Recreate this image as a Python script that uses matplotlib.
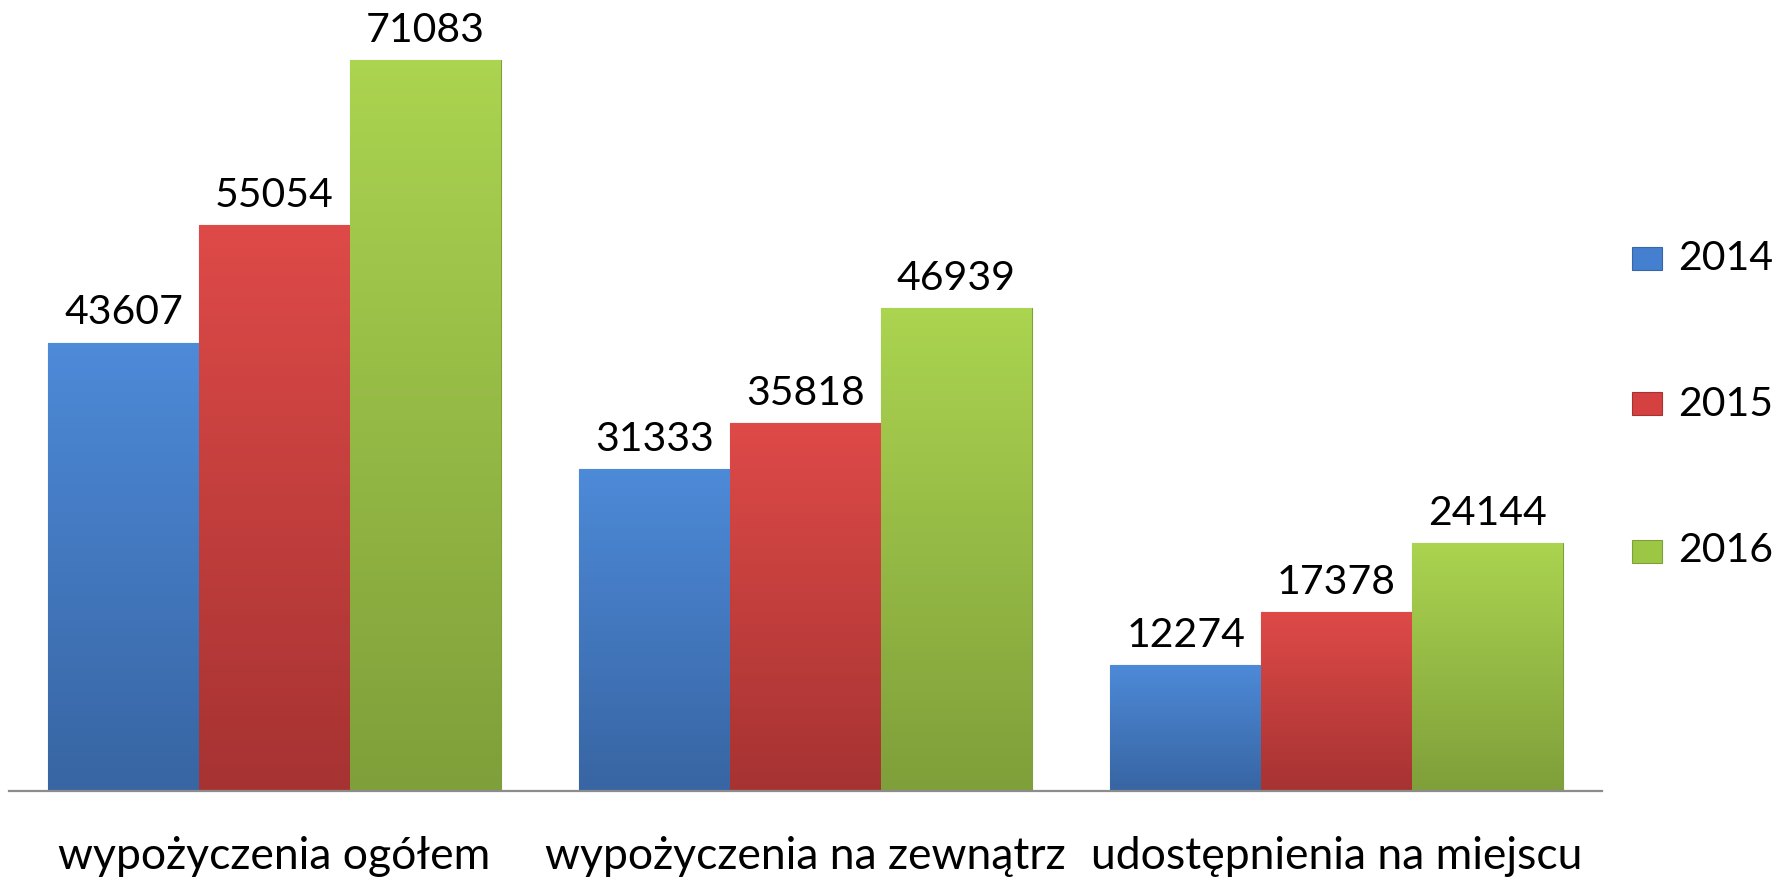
import numpy as np
import matplotlib.pyplot as plt
from matplotlib.colors import to_rgb
from matplotlib.patches import Rectangle

kategorie = ["wypożyczenia ogółem", "wypożyczenia na zewnątrz", "udostępnienia na miejscu"]
lata = ["2014", "2015", "2016"]
w2014 = [43607, 31333, 12274]
w2015 = [55054, 35818, 17378]
w2016 = [71083, 46939, 24144]
serie = [w2014, w2015, w2016]

kolory = ["#4480cf", "#d44140", "#9cc745"]
jasne = ["#4d8ad8", "#de4a48", "#abd450"]
ciemne = ["#3865a3", "#a63332", "#7f9f3a"]

plt.rcParams['font.family'] = ['Lato', 'DejaVu Sans']

fig = plt.figure(figsize=(17.79, 8.80), dpi=100)
ax = fig.add_axes([9 / 1779, 89 / 880, 1593 / 1779, 791 / 880])

x = np.arange(len(kategorie))
szer = 0.284
for i, (wart, rok) in enumerate(zip(serie, lata)):
    slupki = ax.bar(x + (i - 1) * szer, wart, szer, color=kolory[i], label=rok,
                    edgecolor=ciemne[i], linewidth=0.8, zorder=2)
    # gradient w pionie, jaśniej u góry
    c1 = np.array(to_rgb(jasne[i]))
    c2 = np.array(to_rgb(ciemne[i]))
    grad = np.linspace(0, 1, 100)[:, None, None]
    img = c1 * (1 - grad) + c2 * grad
    for b in slupki:
        x0, h, w = b.get_x(), b.get_height(), b.get_width()
        im = ax.imshow(img, extent=[x0, x0 + w, 0, h], origin='upper',
                       aspect='auto', zorder=3)
        im.set_clip_path(b)
    ax.bar_label(slupki, padding=8, fontsize=29.5, color='black')

ax.set_xlim(-0.5, 2.5)
ax.set_ylim(0, 76916)
ax.set_xticks(x)
ax.set_xticklabels(kategorie, fontsize=32, va='baseline')
ax.tick_params(axis='x', length=0, pad=56)
ax.set_yticks([])
for s in ['top', 'right', 'left']:
    ax.spines[s].set_visible(False)
ax.spines['bottom'].set_color('#8c8c8c')
ax.spines['bottom'].set_linewidth(1.6)
ax.spines['bottom'].set_zorder(4)

# legenda
srodki = [259, 404, 551]
for i, rok in enumerate(lata):
    yc = 1 - srodki[i] / 880
    fig.add_artist(Rectangle((1632 / 1779, yc - 11.5 / 880), 30 / 1779, 23 / 880,
                             transform=fig.transFigure, facecolor=kolory[i],
                             edgecolor=ciemne[i], linewidth=0.8))
    fig.text(1678 / 1779, yc, rok, fontsize=29.5, va='center', ha='left')

fig.savefig("out.png", dpi=100)
